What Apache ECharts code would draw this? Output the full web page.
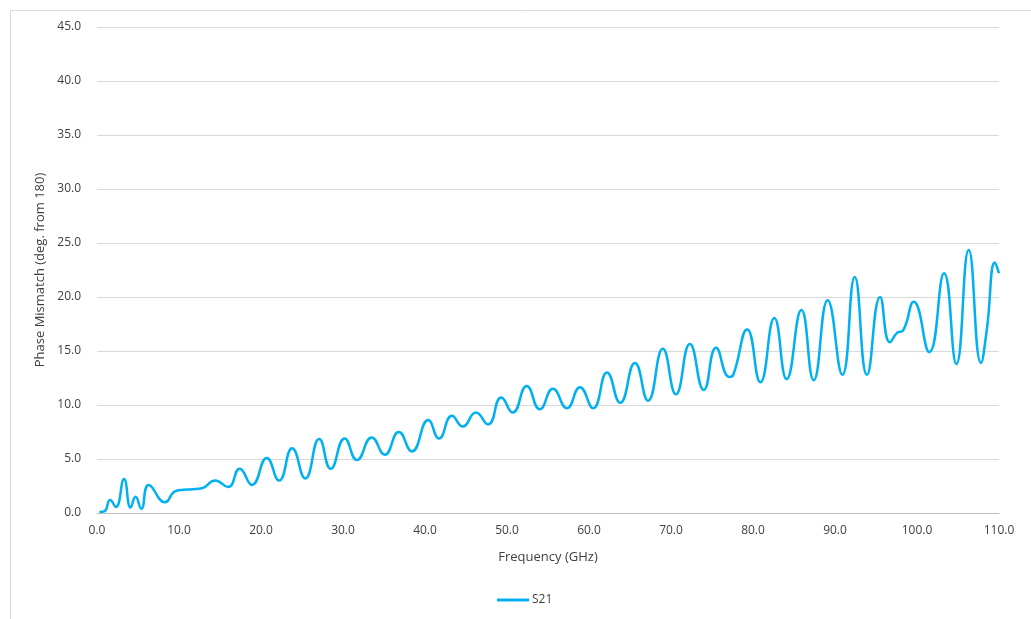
<!DOCTYPE html>
<html>
<head>
<meta charset="utf-8">
<script src="https://cdn.jsdelivr.net/npm/echarts@6/dist/echarts.min.js"></script>
<style>
  html, body { margin: 0; padding: 0; background: #fff; }
  #phaseChart { width: 1031px; height: 619px; }
</style>
</head>
<body>
<div id="phaseChart"></div>
<script>
// values
const freqGHz = [0.3, 0.9, 1.6, 2.3, 3.3, 4.1, 4.7, 5.4, 6.3, 8.3,
  9.5, 10.5, 11.6, 12.8, 14.4, 16.0, 17.4, 18.9,
  20.7, 22.2, 23.8, 25.4, 27.1, 28.5, 30.2, 31.7, 33.5, 35.1, 36.8, 38.4,
  40.4, 41.7, 43.3, 44.6, 46.2, 47.7, 49.3, 50.7, 52.4, 54.0, 55.6,
  57.3, 58.9, 60.5, 62.2, 63.8, 65.6, 67.2, 69.0, 70.6, 72.3, 74.0,
  75.5, 77.1, 77.6, 79.3, 80.9, 82.6, 84.1, 85.9, 87.4, 89.1, 90.9,
  92.4, 93.9, 95.5, 96.7, 97.6, 98.3, 99.6, 101.5, 103.3, 104.8, 106.3, 107.8, 108.5, 109.5, 110];
const s21Mismatch = [0.1, 0.15, 1.2, 0.55, 3.15, 0.5, 1.5, 0.4, 2.6, 1.0,
  2.0, 2.15, 2.2, 2.3, 3.0, 2.4, 4.1, 2.6,
  5.1, 3.0, 6.0, 3.2, 6.85, 4.1, 6.9, 4.9, 7.0, 5.4, 7.5, 5.7,
  8.6, 6.9, 9.0, 8.0, 9.3, 8.2, 10.7, 9.3, 11.75, 9.6, 11.5,
  9.7, 11.65, 9.7, 13.0, 10.2, 13.9, 10.4, 15.2, 11.0, 15.65, 11.4,
  15.3, 12.6, 12.8, 17.0, 12.1, 18.05, 12.4, 18.8, 12.3, 19.7, 12.8,
  21.85, 12.8, 20.0, 15.8, 16.7, 16.9, 19.55, 14.9, 22.2, 13.8, 24.35, 13.9, 16.9, 23.2, 22.2];
const xTicks = { min: 0, max: 110, step: 10 };
const yTicks = { min: 0, max: 45, step: 5 };

const labelFont = '"Open Sans", "Liberation Sans", sans-serif';
const textColor = '#404040';
let chart = echarts.init(document.getElementById('phaseChart'));
let option = {
  animation: false,
  textStyle: { fontFamily: labelFont, color: textColor },
  graphic: [
    {
      type: 'rect',
      shape: { x: 10.5, y: 10.5, width: 1030, height: 620 },
      style: { fill: 'none', stroke: '#d9d9d9', lineWidth: 1 },
      silent: true,
    },
  ],
  grid: { left: 97, right: 32, top: 27, bottom: 106 },
  legend: {
    bottom: 8,
    left: 492,
    itemWidth: 32,
    itemHeight: 3,
    itemGap: 4,
    icon: 'rect',
    textStyle: { fontSize: 12, color: textColor, fontFamily: labelFont, padding: [0, 0, 0, -2] },
    data: ['S21'],
  },
  xAxis: {
    type: 'value',
    min: xTicks.min,
    max: xTicks.max,
    interval: xTicks.step,
    name: 'Frequency (GHz)',
    nameLocation: 'middle',
    nameGap: 38,
    nameTextStyle: { fontSize: 13, color: textColor },
    axisLine: { show: true, lineStyle: { color: '#bfbfbf' } },
    axisTick: { show: false },
    splitLine: { show: false },
    axisLabel: {
      margin: 12,
      fontSize: 12,
      color: textColor,
      formatter: (v) => v.toFixed(1),
    },
  },
  yAxis: {
    type: 'value',
    min: yTicks.min,
    max: yTicks.max,
    interval: yTicks.step,
    name: 'Phase Mismatch (deg. from 180)',
    nameLocation: 'middle',
    nameGap: 48,
    nameTextStyle: { fontSize: 13, color: textColor },
    axisLine: { show: false },
    axisTick: { show: false },
    splitLine: { lineStyle: { color: '#d9d9d9' } },
    axisLabel: {
      margin: 16,
      fontSize: 12,
      color: textColor,
      formatter: (v) => v.toFixed(1),
    },
  },
  series: [
    {
      name: 'S21',
      type: 'line',
      data: freqGHz.map((f, i) => [f, s21Mismatch[i]]),
      smooth: 0.5,
      showSymbol: false,
      lineStyle: { color: '#00b0f0', width: 2.5 },
      itemStyle: { color: '#00b0f0' },
    },
  ],
};
chart.setOption(option);
</script>
</body>
</html>
